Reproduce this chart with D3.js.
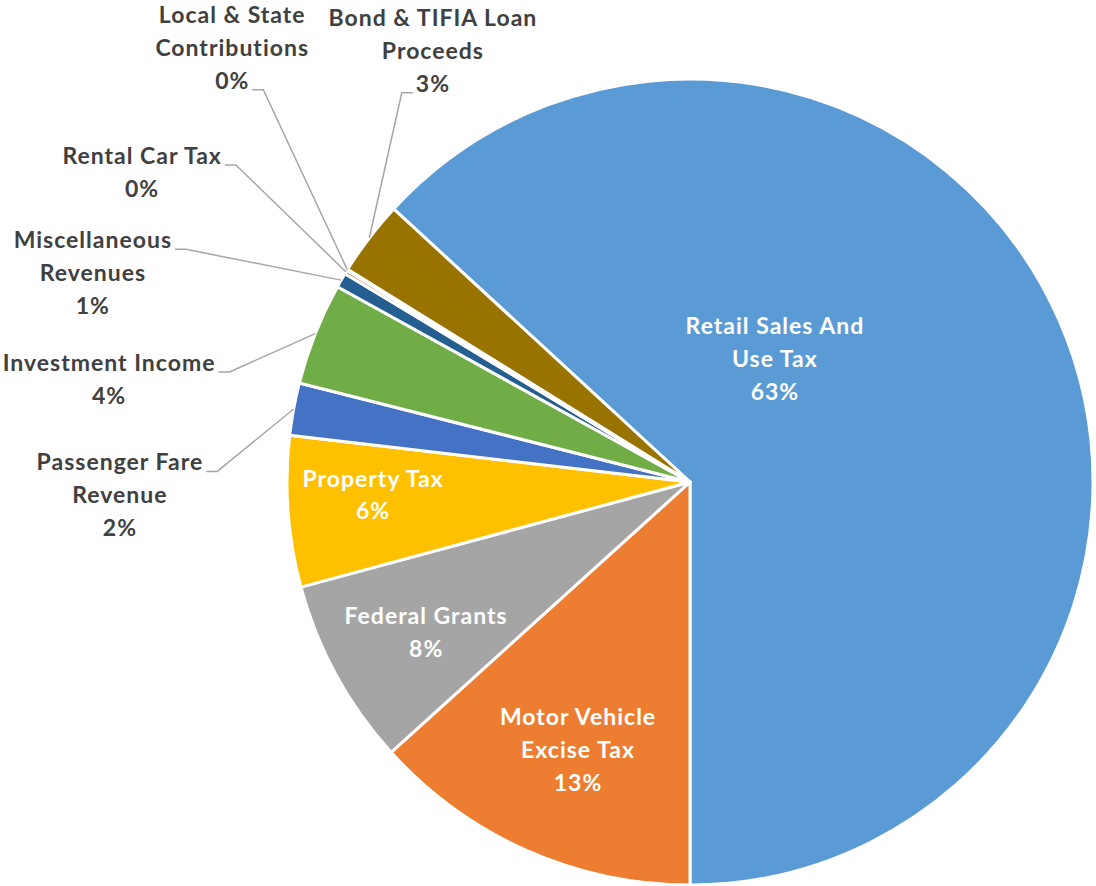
<!DOCTYPE html>
<html>
<head>
<meta charset="utf-8">
<script src="https://cdn.jsdelivr.net/npm/d3@7"></script>
<style>
  html, body { margin: 0; padding: 0; background: #ffffff; }
  svg { display: block; }
  text { font-family: Lato, "Open Sans", sans-serif; font-weight: 700; }
</style>
</head>
<body>
<svg id="chart" width="1096" height="886"></svg>
<script>
// ---- data ----
const categories = [
  "Retail Sales And Use Tax",
  "Motor Vehicle Excise Tax",
  "Federal Grants",
  "Property Tax",
  "Passenger Fare Revenue",
  "Investment Income",
  "Miscellaneous Revenues",
  "Rental Car Tax",
  "Local & State Contributions",
  "Bond & TIFIA Loan Proceeds"
];
const values = [63.15, 13.3, 7.5, 6.05, 2.1, 4.1, 0.6, 0.15, 0.05, 3.0];
const labelLines = [
  ["Retail Sales And", "Use Tax"],
  ["Motor Vehicle", "Excise Tax"],
  ["Federal Grants"],
  ["Property Tax"],
  ["Passenger Fare", "Revenue"],
  ["Investment Income"],
  ["Miscellaneous", "Revenues"],
  ["Rental Car Tax"],
  ["Local & State", "Contributions"],
  ["Bond & TIFIA Loan", "Proceeds"]
];
const colors = ["#5B9BD5", "#ED7D31", "#A5A5A5", "#FFC000", "#4472C4",
                "#70AD47", "#255E91", "#9E480E", "#636363", "#997300"];

// ---- layout (label placement, polar: degrees clockwise from 12 o'clock, radius fraction) ----
const labelPlace = [
  { a: 34.6,  r: 0.371, inside: true },
  { a: 202.7, r: 0.72,  inside: true },
  { a: 240.4, r: 0.753, inside: true },
  { a: 267.7, r: 0.787, inside: true },
  { a: 268.7, r: 1.415, inside: false, leaderLine: 0, side: "right" },
  { a: 280.05, r: 1.464, inside: false, leaderLine: 0, side: "right" },
  { a: 289.3, r: 1.570, inside: false, leaderLine: 0, side: "right" },
  { a: 299.5, r: 1.562, inside: false, leaderLine: 0, side: "right" },
  { a: 313.5, r: 1.566, inside: false, leaderLine: 2, side: "right" },
  { a: 329.2, r: 1.246, inside: false, leaderLine: 2, side: "left" }
];

const W = 1096, H = 886;
const cx = 690, cy = 482, R = 403;
const fontSize = 23, letterSp = 1, lineH = 32.8;

const svg = d3.select("#chart");
const g = svg.append("g").attr("transform", `translate(${cx},${cy})`);

const total = d3.sum(values);
const data = categories.map((c, i) => ({ name: c, value: values[i], i }));
const start = Math.PI - 2 * Math.PI * values[0] / total;
const pie = d3.pie().value(d => d.value).sort(null)
  .startAngle(start).endAngle(start + 2 * Math.PI);
const arcs = pie(data);
const arc = d3.arc().innerRadius(0).outerRadius(R);

g.selectAll("path.slice").data(arcs).join("path")
  .attr("class", "slice")
  .attr("d", arc)
  .attr("fill", d => colors[d.data.i])
  .attr("stroke", "#ffffff")
  .attr("stroke-width", 3)
  .attr("stroke-linejoin", "round");

const fmt = d => Math.round(d.value / total * 100) + "%";
const polar = (deg, r) => {
  const t = deg * Math.PI / 180;
  return [r * Math.sin(t), -r * Math.cos(t)];
};

arcs.forEach(d => {
  const i = d.data.i;
  const p = labelPlace[i];
  const lines = labelLines[i].concat([fmt(d)]);
  const [lx, ly] = polar(p.a, p.r * R);
  const n = lines.length;
  const txt = g.append("text")
    .attr("text-anchor", "middle")
    .attr("font-size", fontSize)
    .attr("letter-spacing", letterSp)
    .attr("fill", p.inside ? "#ffffff" : "#404040");
  const tspans = lines.map((L, k) => {
    const yc = ly + (k - (n - 1) / 2) * lineH;
    return txt.append("tspan")
      .attr("x", lx)
      .attr("y", yc + fontSize * 0.36)
      .text(L);
  });
  if (!p.inside) {
    const ts = tspans[p.leaderLine].node();
    const w = ts.getComputedTextLength();
    const base = ly + (p.leaderLine - (n - 1) / 2) * lineH + fontSize * 0.36;
    const mid = (d.startAngle + d.endAngle) / 2;
    const ex = R * Math.sin(mid), ey = -R * Math.cos(mid);
    let x0, x1;
    if (p.side === "right") { x0 = lx + w / 2 + 3; x1 = x0 + 11; }
    else { x0 = lx - w / 2 - 3; x1 = x0 - 11; }
    g.append("polyline")
      .attr("points", [[x0, base + 1], [x1, base + 1], [ex, ey]].map(q => q.join(",")).join(" "))
      .attr("fill", "none")
      .attr("stroke", "#A6A6A6")
      .attr("stroke-width", 1.5);
  }
});
</script>
</body>
</html>
